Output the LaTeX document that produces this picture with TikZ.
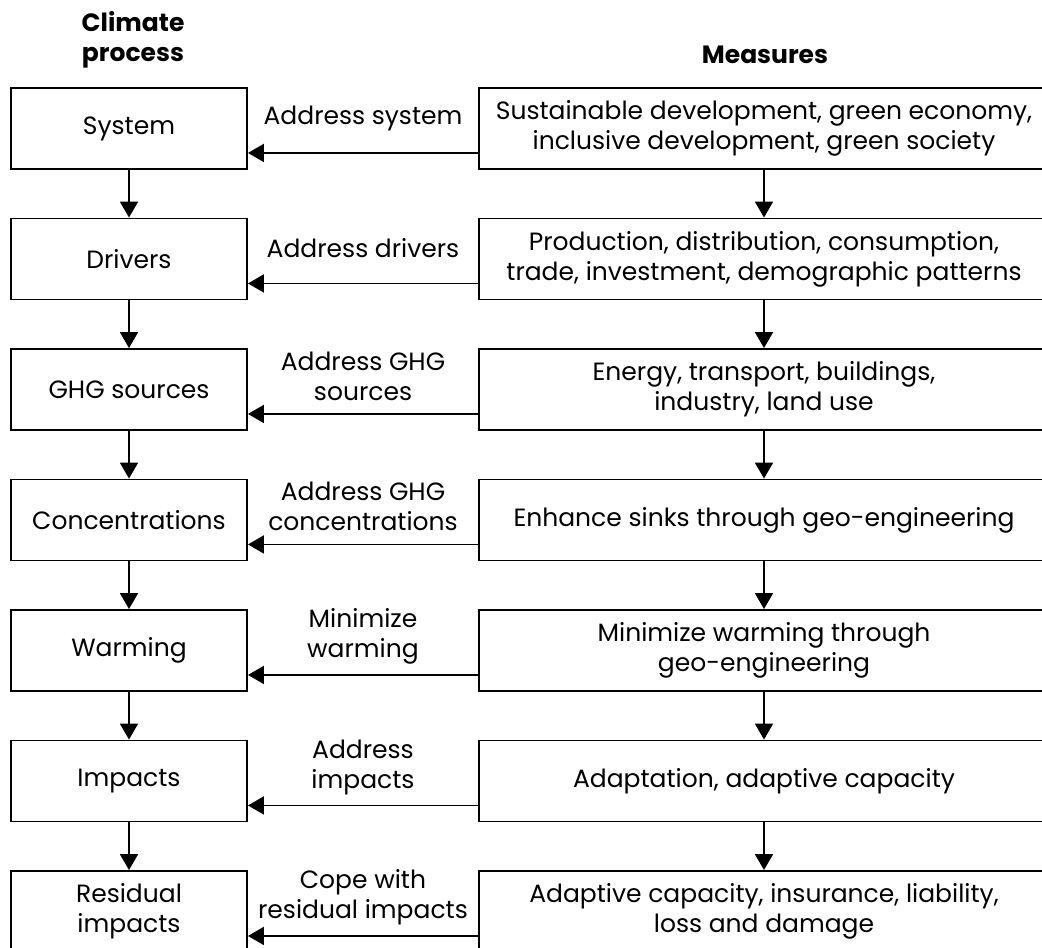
\documentclass[tikz,border=0pt]{standalone}
\usepackage{fontspec}
\setmainfont{Poppins}
\usetikzlibrary{arrows.meta}
\newcommand\fsz{\fontsize{25}{30}\selectfont}
\begin{document}
\begin{tikzpicture}[x=1pt,y=-1pt,
  lbox/.style={draw,line width=1.9pt,minimum width=236pt,minimum height=81pt,inner sep=0pt,align=center,font=\fsz},
  rbox/.style={draw,line width=1.9pt,minimum width=570pt,minimum height=81pt,inner sep=0pt,align=center,font=\fsz},
  arr/.style={line width=1.9pt,-{Triangle[length=16pt,width=18pt]}},
  lab/.style={align=center,font=\fsz,inner sep=0pt},
  head/.style={align=center,font=\fsz\bfseries,inner sep=0pt}]
\useasboundingbox (0,0) rectangle (1042,948);
\fill[white] (0,0) rectangle (1042,948);

\node[head] (h1) at (133,40) {Climate\\process};
\node[head] (h2) at (765,55) {Measures};

\node[lbox] (L1) at (129,128.5) {System};
\node[lbox] (L2) at (129,259) {Drivers};
\node[lbox] (L3) at (129,389.5) {GHG sources};
\node[lbox] (L4) at (129,520) {Concentrations};
\node[lbox] (L5) at (129,650.5) {Warming};
\node[lbox] (L6) at (129,781) {Impacts};
\node[lbox] (L7) at (129,911.5) {Residual\\impacts};

\node[rbox] (R1) at (764,128.5) {Sustainable development, green economy,\\inclusive development, green society};
\node[rbox] (R2) at (764,259) {Production, distribution, consumption,\\trade, investment, demographic patterns};
\node[rbox] (R3) at (764,389.5) {Energy, transport, buildings,\\industry, land use};
\node[rbox] (R4) at (764,520) {Enhance sinks through geo-engineering};
\node[rbox] (R5) at (764,650.5) {Minimize warming through\\geo-engineering};
\node[rbox] (R6) at (764,781) {Adaptation, adaptive capacity};
\node[rbox] (R7) at (764,911.5) {Adaptive capacity, insurance, liability,\\loss and damage};

\node[lab] (A1) at (363,118) {Address system};
\node[lab] (A2) at (363,248) {Address drivers};
\node[lab] (A3) at (363,376) {Address GHG\\sources};
\node[lab] (A4) at (363,506) {Address GHG\\concentrations};
\node[lab] (A5) at (363,636) {Minimize\\warming};
\node[lab] (A6) at (363,767) {Address\\impacts};
\node[lab] (A7) at (363,897) {Cope with\\residual impacts};

\foreach \i in {1,...,7}{
  \draw[arr] ([yshift=17pt]R\i.south west) -- ([yshift=17pt]L\i.south east);
}
\foreach \i/\j in {1/2,2/3,3/4,4/5,5/6,6/7}{
  \draw[arr] (L\i.south) -- (L\j.north);
  \draw[arr] (R\i.south) -- (R\j.north);
}
\end{tikzpicture}
\end{document}
